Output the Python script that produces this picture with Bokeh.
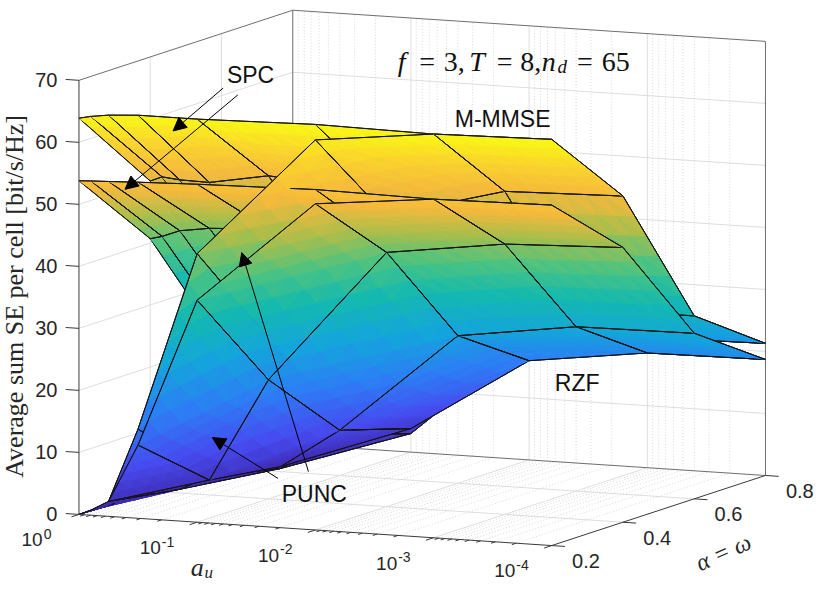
import numpy as np
from bokeh.plotting import figure
from bokeh.models import Range1d, ColumnDataSource, Arrow, NormalHead
from bokeh.embed import file_html
from bokeh.resources import INLINE
from bokeh.core.properties import value

nan = float("nan")

# ---------------- data ----------------
au_exponent = [0.0, 0.1, 0.25, 0.5, 1.0, 2.0, 3.0, 4.0]      # a_u = 10^(-e)
a_u = [10.0 ** (-e) for e in au_exponent]
alpha = [0.2, 0.4, 0.6, 0.8]                                 # alpha = omega

# rows: alpha, columns: a_u
mmse_spc = [
    [63.9, 64.3, 64.7, 65.0, 65.0, 65.4, 65.1, 65.5],
    [50.0, 50.8, 50.5, 50.4, 52.1, 50.5, 52.1, 52.6],
    [30.0, 30.5, 31.0, 31.5, 32.0, 30.0, 29.5, 29.5],
    [18.0, 18.5, 19.0, 19.5, 20.5, 20.5, 21.0, 21.3],
]
rzf_spc = [
    [53.8, 53.9, 54.0, 54.2, 54.5, 54.9, 54.6, 54.9],
    [40.7, 41.2, 42.3, 43.0, 43.5, 43.0, 43.6, 44.3],
    [20.0, 21.0, 22.5, 24.0, 26.0, 26.0, 26.5, 26.7],
    [12.0, 12.5, 13.5, 14.5, 16.5, 17.5, 18.5, 18.7],
]
mmse_punc = [
    [0.0, 0.8, 2.4, 14.4, 43.3, 62.9, 65.1, 65.5],
    [nan, 0.3, 0.6, 3.0, 26.0, 47.0, 52.1, 52.6],
    [nan, nan, nan, 0.5, 6.5, 28.5, 29.5, 29.5],
    [nan, nan, nan, nan, 3.0, 19.5, 21.0, 21.3],
]
rzf_punc = [
    [0.0, 0.8, 2.4, 11.8, 35.8, 52.6, 54.6, 54.9],
    [nan, nan, nan, 2.4, 19.2, 41.0, 43.6, 44.3],
    [nan, nan, nan, 0.8, 7.3, 23.8, 26.5, 26.7],
    [nan, nan, nan, nan, 3.8, 16.0, 18.5, 18.7],
]
surfaces = [mmse_spc, rzf_spc, mmse_punc, rzf_punc]

z_ticks = [0, 10, 20, 30, 40, 50, 60, 70]
x_ticks = [1e0, 1e-1, 1e-2, 1e-3, 1e-4]
x_tick_exp = ["0", "-1", "-2", "-3", "-4"]
alpha_ticks = [0.2, 0.4, 0.6, 0.8]
alpha_tick_labels = ["0.2", "0.4", "0.6", "0.8"]
Z_LIM = (0.0, 70.0)
ALPHA_LIM = (0.2, 0.8)
AU_DECADES = 4.0

# ---------------- 3-D view (reference pixels) ----------------
OX, OY = 80.0, 528.0      # front-left-bottom corner
UX, UY = 482.0, 32.0      # a_u axis span
VX, VY = 218.0, -72.0     # alpha axis span
ZPX = 446.0               # z axis span
DIR = (-0.405, 0.896, -0.174)   # view direction in box coords (far = larger)
SHEET_BIAS = [0.04, 0.0, -0.04, -5.0]   # tie-break for nearly touching sheets (front sheet last)


def nu(a):
    return -np.log10(a) / AU_DECADES


def nv(al):
    return (al - ALPHA_LIM[0]) / (ALPHA_LIM[1] - ALPHA_LIM[0])


def nw(z):
    return (z - Z_LIM[0]) / (Z_LIM[1] - Z_LIM[0])


def P(u, v, w):
    return OX + UX * u + VX * v, OY + UY * u + VY * v - ZPX * w


def depth(u, v, w):
    return DIR[0] * u + DIR[1] * v + DIR[2] * w


# parula-like colormap
CM_T = [0.0, 0.12, 0.25, 0.38, 0.5, 0.6, 0.7, 0.8, 0.9, 1.0]
CM_RGB = [(62, 38, 168), (71, 75, 240), (45, 125, 245), (20, 165, 220), (20, 185, 175),
          (75, 195, 130), (170, 190, 75), (245, 185, 60), (250, 212, 45), (249, 250, 20)]
CLIM = (0.0, float(np.nanmax(np.array(surfaces, float))))


def cmap(z):
    t = min(max((z - CLIM[0]) / (CLIM[1] - CLIM[0]), 0.0), 1.0)
    r = np.interp(t, CM_T, [c[0] for c in CM_RGB])
    g = np.interp(t, CM_T, [c[1] for c in CM_RGB])
    b = np.interp(t, CM_T, [c[2] for c in CM_RGB])
    return "#%02x%02x%02x" % (int(round(r)), int(round(g)), int(round(b)))


W, H = 814, 584
p = figure(width=W, height=H, x_range=Range1d(0, 830), y_range=Range1d(600, 0),
           output_backend="svg", toolbar_location=None, min_border=0,
           x_axis_location=None, y_axis_location=None)
p.grid.visible = False
p.outline_line_color = None
p.background_fill_color = "white"
p.border_fill_color = "white"


def seg(a, b):
    x0, y0 = P(*a)
    x1, y1 = P(*b)
    return [x0, x1], [y0, y1]


# ---------------- grids on the back planes ----------------
major_u = [nu(a) for a in x_ticks[1:-1]]
minor_u = []
for m in range(1, int(AU_DECADES) + 1):
    for k in range(2, 10):
        minor_u.append(nu(k * 10.0 ** (-m)))
major_v = [nv(a) for a in alpha_ticks[1:-1]]
major_w = [nw(z) for z in z_ticks[1:-1]]

gx, gy = [], []
for u in major_u:
    for a, b in (((u, 1, 0), (u, 1, 1)), ((u, 0, 0), (u, 1, 0))):
        xs, ys = seg(a, b); gx.append(xs); gy.append(ys)
for w in major_w:
    for a, b in (((0, 1, w), (1, 1, w)), ((0, 0, w), (0, 1, w))):
        xs, ys = seg(a, b); gx.append(xs); gy.append(ys)
for v in major_v:
    for a, b in (((0, v, 0), (0, v, 1)), ((0, v, 0), (1, v, 0))):
        xs, ys = seg(a, b); gx.append(xs); gy.append(ys)
p.multi_line(gx, gy, line_color="#dedede", line_width=1)

mx, my = [], []
for u in minor_u:
    for a, b in (((u, 1, 0), (u, 1, 1)), ((u, 0, 0), (u, 1, 0))):
        xs, ys = seg(a, b); mx.append(xs); my.append(ys)
p.multi_line(mx, my, line_color="#cfcfcf", line_width=0.8, line_dash="1 2")

# back box edges
bx, by = [], []
for a, b in (((0, 1, 0), (0, 1, 1)), ((1, 1, 0), (1, 1, 1)), ((0, 0, 1), (0, 1, 1)),
             ((0, 1, 1), (1, 1, 1)), ((0, 1, 0), (1, 1, 0)), ((0, 0, 0), (0, 1, 0))):
    xs, ys = seg(a, b); bx.append(xs); by.append(ys)
p.multi_line(bx, by, line_color="#6e6e6e", line_width=1)

# ---------------- surfaces (painter's algorithm) ----------------
NSUB = 6
EDGE_COLOR = "#141414"
EDGE_W = 1.0
items = []


def add_triangle(P0, P1, P2, s01, s12, s20, bias):
    """Interpolated-colour triangle, subdivided; grid edges drawn after their neighbouring sub-faces."""
    n = NSUB
    g = {}
    for i in range(n + 1):
        for j in range(n + 1 - i):
            g[(i, j)] = tuple(P0[k] + (P1[k] - P0[k]) * i / n + (P2[k] - P0[k]) * j / n for k in range(3))
    vdep = {}
    for i in range(n):
        for j in range(n - i):
            tris = [((i, j), (i + 1, j), (i, j + 1))]
            if i + j < n - 1:
                tris.append(((i + 1, j), (i + 1, j + 1), (i, j + 1)))
            for t in tris:
                q = [g[k] for k in t]
                c = tuple(sum(pt[k] for pt in q) / 3.0 for k in range(3))
                d = depth(*c) + bias
                col = cmap(Z_LIM[0] + c[2] * (Z_LIM[1] - Z_LIM[0]))
                xy = [P(*pt) for pt in q]
                items.append((d, [a for a, _ in xy], [b for _, b in xy], col, 1.0, col, 0.8))
                for k in t:
                    vdep.setdefault(k, []).append(d)
    segs = []
    if s01:
        segs += [((i, 0), (i + 1, 0)) for i in range(n)]
    if s20:
        segs += [((0, j), (0, j + 1)) for j in range(n)]
    if s12:
        segs += [((n - j, j), (n - j - 1, j + 1)) for j in range(n)]
    for a, b in segs:
        d = min(vdep[a] + vdep[b]) - 1e-7
        (x0, y0), (x1, y1) = P(*g[a]), P(*g[b])
        items.append((d, [x0, x1], [y0, y1], "#000000", 0.0, EDGE_COLOR, EDGE_W))


for Zs, sb in zip(surfaces, SHEET_BIAS):
    Z = np.array(Zs, float)
    uu = [nu(a) for a in a_u]
    vv = [nv(al) for al in alpha]

    def valid(idx):
        return not np.isnan(Z[idx[1], idx[0]])

    def pt(idx):
        i, j = idx
        return (uu[i], vv[j], nw(Z[j, i]))

    for j in range(len(alpha) - 1):
        for i in range(len(a_u) - 1):
            A, B, C, D = (i, j), (i + 1, j), (i + 1, j + 1), (i, j + 1)
            t1 = all(valid(q) for q in (A, B, C))
            t2 = all(valid(q) for q in (A, C, D))
            if t1:
                add_triangle(pt(A), pt(B), pt(C), True, True, not t2, sb)
            if t2:
                add_triangle(pt(A), pt(C), pt(D), not t1, True, True, sb)

items.sort(key=lambda it: -it[0])
src = ColumnDataSource(dict(xs=[it[1] for it in items], ys=[it[2] for it in items],
                            fc=[it[3] for it in items], fa=[it[4] for it in items],
                            lc=[it[5] for it in items], lw=[it[6] for it in items]))
p.patches("xs", "ys", source=src, fill_color="fc", fill_alpha="fa", line_color="lc", line_width="lw")

# ---------------- front axes & ticks ----------------
ax, ay = [], []
for a, b in (((0, 0, 0), (0, 0, 1)), ((0, 0, 0), (1, 0, 0)), ((1, 0, 0), (1, 1, 0))):
    xs, ys = seg(a, b); ax.append(xs); ay.append(ys)
for z in z_ticks:
    w = nw(z)
    xs, ys = seg((0, 0, w), (-0.028, 0, w)); ax.append(xs); ay.append(ys)
for a in x_ticks:
    u = nu(a)
    xs, ys = seg((u, 0, 0), (u, -0.035, 0)); ax.append(xs); ay.append(ys)
for u in minor_u:
    xs, ys = seg((u, 0, 0), (u, -0.02, 0)); ax.append(xs); ay.append(ys)
for al in alpha_ticks:
    v = nv(al)
    xs, ys = seg((1, v, 0), (1.028, v, 0)); ax.append(xs); ay.append(ys)
p.multi_line(ax, ay, line_color="#3a3a3a", line_width=1)


def label(x, y, s, size, font="Liberation Sans", style="normal", align="center",
          baseline="middle", angle=0.0, color="#262626"):
    p.text(x=[x], y=[y], text=[s], text_font=value(font), text_font_size=value("%dpx" % size),
           text_font_style=value(style), text_align=value(align), text_baseline=value(baseline),
           angle=angle, text_color=color)


for z in z_ticks:
    x, y = P(0, 0, nw(z))
    label(x - 22, y, str(z), 20, align="right")
for a, ex in zip(x_ticks, x_tick_exp):
    x, y = P(nu(a), 0, 0)
    label(x - 37, y + 26, "10", 19, align="right")
    label(x - 36, y + 20, ex, 14, align="left")
for al, s in zip(alpha_ticks, alpha_tick_labels):
    x, y = P(1, nv(al), 0)
    label(x + 35, y + 16, s, 20)

# axis titles
label(14, 304, "Average sum SE per cell [bit/s/Hz]", 26, font="Liberation Serif", angle=np.pi / 2)
label(194, 583, "a", 26, font="Liberation Serif", style="italic", align="left", baseline="alphabetic")
label(208, 588, "u", 17, font="Liberation Serif", style="italic", align="left", baseline="alphabetic")
label(737, 567, "\u03b1 = \u03c9", 24, font="Liberation Serif", style="italic", angle=0.42)

# title inside the box
tokens = [("f", 405, "italic", "left"), ("=", 435, "normal", "center"), ("3,", 452, "normal", "left"),
          ("T", 478, "italic", "left"), ("=", 514, "normal", "center"), ("8,", 530, "normal", "left"),
          ("n", 552, "italic", "left"), ("=", 596, "normal", "center"), ("65", 613, "normal", "left")]
for s, x, st, al in tokens:
    label(x, 63, s, 28, font="Liberation Serif", style=st, align=al, baseline="alphabetic", color="#111111")
label(568, 68, "d", 19, font="Liberation Serif", style="italic", align="left", baseline="alphabetic", color="#111111")

# annotations
label(255, 77, "SPC", 23, color="#111111")
label(512, 122, "M-MMSE", 23, color="#111111")
label(588, 393, "RZF", 23, color="#111111")
label(320, 507, "PUNC", 23, color="#111111")

arrows = [((227, 90), (176, 134)), ((242, 97), (127, 194)),
          ((283, 491), (216, 449)), ((314, 484), (246, 259))]
for (x0, y0), (x1, y1) in arrows:
    p.add_layout(Arrow(end=NormalHead(size=13, fill_color="black", line_color="black", line_width=1),
                       x_start=x0, y_start=y0, x_end=x1, y_end=y1, line_color="black", line_width=1))

open("out.html", "w").write(file_html(p, INLINE))
